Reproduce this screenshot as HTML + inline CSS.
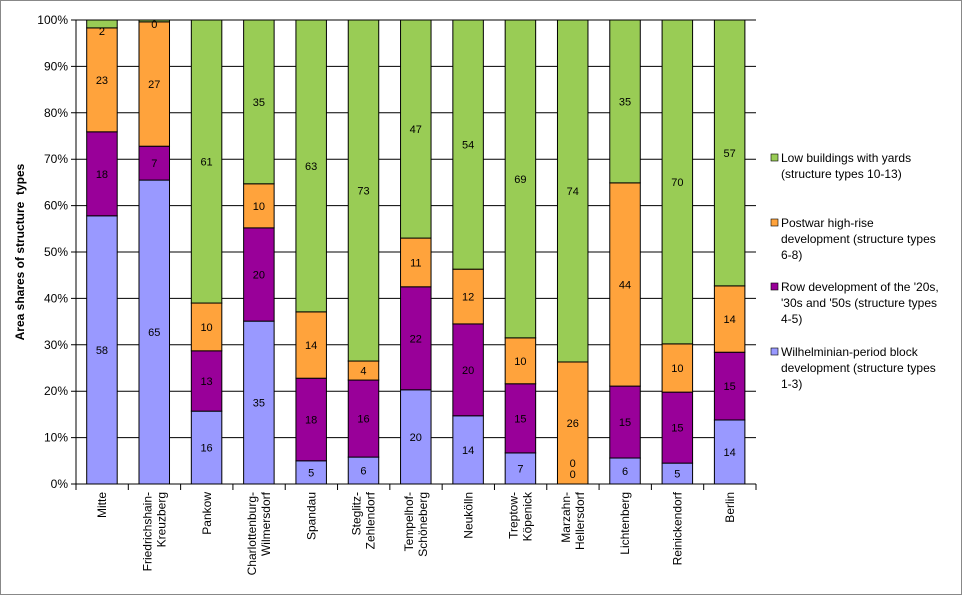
<!DOCTYPE html>
<html><head><meta charset="utf-8"><style>body{margin:0;background:#fff}svg{display:block}text{font-family:"Liberation Sans",Arial,sans-serif}</style></head><body>
<svg id="s" width="962" height="595" viewBox="0 0 962 595" xmlns="http://www.w3.org/2000/svg">
<rect x="0.5" y="0.5" width="961" height="594" fill="#fff" stroke="#888"/>
<g id="grid" stroke="#000" stroke-width="1"></g>
<g id="bars"></g>
<g id="lbl" font-size="11" text-anchor="middle"></g>
<g id="xl" font-size="12"></g>
<text transform="translate(24,252) rotate(-90)" font-size="12" font-weight="bold" text-anchor="middle" xml:space="preserve">Area shares of structure  types</text>
<g font-size="12">
<rect x="771" y="154" width="7" height="7" fill="#99cc55" stroke="#000" stroke-width="0.6"/>
<text x="781" y="162">Low buildings with yards</text><text x="781" y="178">(structure types 10-13)</text>
<rect x="771" y="219" width="7" height="7" fill="#ffa33c" stroke="#000" stroke-width="0.6"/>
<text x="781" y="227">Postwar high-rise</text><text x="781" y="243">development (structure types</text><text x="781" y="259">6-8)</text>
<rect x="771" y="283" width="7" height="7" fill="#990099" stroke="#000" stroke-width="0.6"/>
<text x="781" y="291">Row development of the '20s,</text><text x="781" y="307">'30s and '50s (structure types</text><text x="781" y="323">4-5)</text>
<rect x="771" y="348" width="7" height="7" fill="#9999ff" stroke="#000" stroke-width="0.6"/>
<text x="781" y="356">Wilhelminian-period block</text><text x="781" y="372">development (structure types</text><text x="781" y="388">1-3)</text>
</g>
</svg>
<script>
const ns="http://www.w3.org/2000/svg";
function el(p,t,a,txt){const e=document.createElementNS(ns,t);for(const k in a)e.setAttribute(k,a[k]);if(txt!==undefined)e.textContent=txt;document.getElementById(p).appendChild(e);return e;}
const L=76,R=756,T=20,B=484,H=B-T,W=(R-L)/13;
const Y=p=>B-H*p/100;
for(let i=0;i<=10;i++){const y=Y(i*10);el('grid','line',{x1:L-5,x2:R,y1:y,y2:y});el('lbl','text',{x:L-8,y:y+4,'text-anchor':'end','font-size':12},(i*10)+'%');}
el('grid','line',{x1:L,x2:L,y1:T,y2:B+6});
for(let i=0;i<=13;i++)el('grid','line',{x1:L+i*W,x2:L+i*W,y1:B,y2:B+6});
const d=[["Mitte",57.8,75.9,98.3,[58,18,23,2]],["Friedrichshain-|Kreuzberg",65.5,72.8,99.6,[65,7,27,0]],["Pankow",15.7,28.7,39,[16,13,10,61]],["Charlottenburg-|Wilmersdorf",35.1,55.2,64.7,[35,20,10,35]],["Spandau",5,22.8,37.1,[5,18,14,63]],["Steglitz-|Zehlendorf",5.8,22.4,26.5,[6,16,4,73]],["Tempelhof-|Schöneberg",20.3,42.5,53,[20,22,11,47]],["Neukölln",14.7,34.5,46.3,[14,20,12,54]],["Treptow-|Köpenick",6.7,21.6,31.5,[7,15,10,69]],["Marzahn-|Hellersdorf",0,0,26.3,[0,0,26,74]],["Lichtenberg",5.6,21.1,64.9,[6,15,44,35]],["Reinickendorf",4.5,19.8,30.2,[5,15,10,70]],["Berlin",13.8,28.4,42.7,[14,15,14,57]]];
const col=["#9999ff","#990099","#ffa33c","#99cc55"];
d.forEach((r,i)=>{const x=L+i*W+10.7,w=30.5,cx=x+w/2;const b=[0,r[1],r[2],r[3],100];
for(let k=0;k<4;k++){const y1=Y(b[k+1]),y0=Y(b[k]);if(y0-y1>0.1)el('bars','rect',{x:x,y:y1,width:w,height:y0-y1,fill:col[k],stroke:'#000','stroke-width':1});
let ly=(y0+y1)/2+4;if(i==9&&k<2)ly=k==0?478:467;if(i==1&&k==3)ly=28;if(i==0&&k==3)ly=35;
el('lbl','text',{x:cx,y:ly},r[4][k]);}
const parts=r[0].split('|');const g=el('xl','g',{transform:`translate(${L+i*W+W/2},492) rotate(-90)`});
parts.forEach((p,j)=>{const t=document.createElementNS(ns,'text');t.setAttribute('x',0);t.setAttribute('y',(parts.length==1?4:-3+j*14));t.setAttribute('text-anchor','end');t.textContent=p;g.appendChild(t);});
});
</script>
</body></html>
